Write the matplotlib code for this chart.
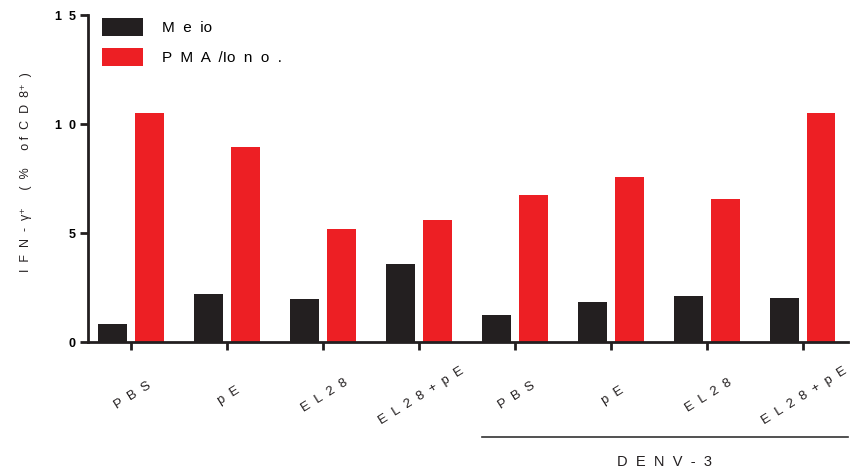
import matplotlib
matplotlib.use("Agg")
import matplotlib.pyplot as plt
import numpy as np

plt.rcParams['font.family'] = ['Liberation Sans', 'DejaVu Sans']

# data
groups = ["PBS", "pE", "EL28", "EL28+pE", "PBS", "pE", "EL28", "EL28+pE"]
meio = [0.83, 2.2, 1.97, 3.58, 1.27, 1.85, 2.12, 2.05]
pma_iono = [10.5, 8.94, 5.18, 5.6, 6.77, 7.57, 6.58, 10.5]
series_names = ["M  e  io", "P  M  A  /Io  n  o  ."]
group_label = "DENV-3"

BLACK = '#231f20'
RED = '#ed1f24'


def spaced(s, sep=" "):
    return sep.join(list(s))


fig = plt.figure(figsize=(8.53, 4.71), dpi=100)
ax = fig.add_axes([0.1035, 0.2732, 0.8906, 0.6949])

x = np.arange(len(groups))
w = 0.30
off = 0.19
ax.bar(x - off, meio, w, color=BLACK, label=series_names[0])
ax.bar(x + off, pma_iono, w, color=RED, label=series_names[1])

ax.set_xlim(-0.445, 7.47)
ax.set_ylim(0, 15)

for s in ['top', 'right']:
    ax.spines[s].set_visible(False)
for s in ['left', 'bottom']:
    ax.spines[s].set_linewidth(2.0)
    ax.spines[s].set_color(BLACK)

ax.set_yticks([0, 5, 10, 15])
ax.set_yticklabels(["0", "5", "1  0", "1  5"], fontsize=9, fontweight='bold')
ax.set_xticks(x)
ax.set_xticklabels([])
ax.tick_params(axis='both', width=2.0, length=6, color=BLACK)
ax.tick_params(axis='y', pad=3)

# rotated category labels
for i, g in enumerate(groups):
    ax.text(i + 0.02, -2.45, spaced(g, "  "), rotation=32, ha='center',
            va='center', rotation_mode='anchor', fontsize=9.5, color=BLACK,
            clip_on=False)

# y label
ax.text(-0.082, 0.52,
        "I  F  N  -  \u03b3\u207a     (  %     o f  C  D  8\u207a  )",
        rotation=90, ha='center', va='center', fontsize=9, color=BLACK,
        transform=ax.transAxes)

# DENV-3 bracket
ax.plot([3.66, 7.47], [-4.34, -4.34], color='#333333', lw=1.2, clip_on=False)
ax.text(5.56, -5.5, spaced(group_label, "  "), ha='center', va='center',
        fontsize=10.5, color=BLACK, clip_on=False)

ax.legend(loc='upper left', bbox_to_anchor=(102 / 853, 1 - 18 / 471),
          bbox_transform=fig.transFigure, frameon=False, fontsize=11,
          handlelength=2.7, handleheight=1.45, handletextpad=1.2,
          labelspacing=0.75, borderpad=0, borderaxespad=0)

fig.savefig("out.png", dpi=100)
